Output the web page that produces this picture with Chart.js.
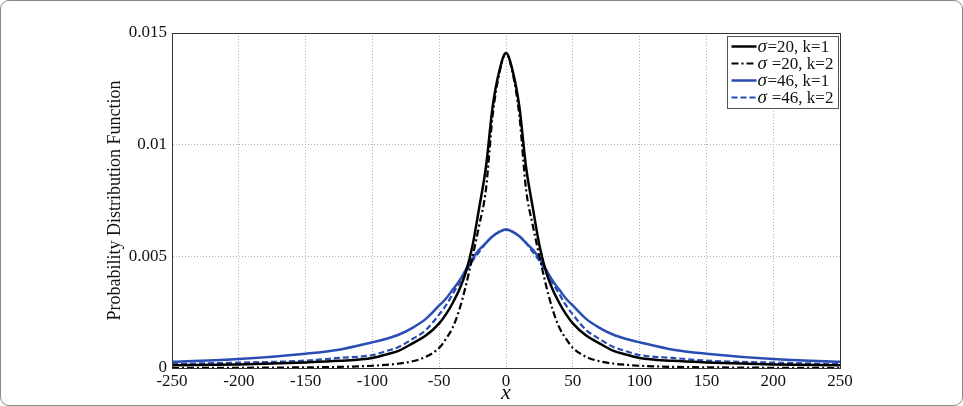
<!DOCTYPE html>
<html>
<head>
<meta charset="utf-8">
<script src="https://cdn.jsdelivr.net/npm/chart.js@4.4.1/dist/chart.umd.min.js"></script>
<style>
  html, body { margin: 0; padding: 0; background: #fff; }
  #wrap { position: relative; width: 963px; height: 406px; }
  #frame { position: absolute; left: 0; top: 0; width: 961px; height: 404px; border: 1px solid #8a8a8a; border-radius: 9px; pointer-events: none; }
</style>
</head>
<body>
<div id="wrap">
  <canvas id="pdf" width="963" height="406"></canvas>
  <div id="frame"></div>
</div>
<script>
var xs = [-250,-200,-150,-125,-100,-90,-80,-70,-60,-50,-45,-40,-35,-30,-25,-20,-15,-10,-5,0,
          5,10,15,20,25,30,35,40,45,50,60,70,80,90,100,125,150,200,250];

// sigma=20, k=1 (black solid)
var s20k1 = [0.00012,0.00016,0.00025,0.00032,0.00045,0.0006,0.00078,0.0011,0.00145,0.0020,0.0024,0.0029,0.0035,0.0043,0.0055,0.0072,0.0090,0.0117,0.0133,0.0141,
             0.0133,0.0117,0.0090,0.0072,0.0055,0.0043,0.0035,0.0029,0.0024,0.0020,0.00145,0.0011,0.00078,0.0006,0.00045,0.00032,0.00025,0.00016,0.00012];
// sigma=20, k=2 (black dash-dot)
var s20k2 = [0,0.00001,0.00003,0.00005,0.0001,0.00014,0.0002,0.0003,0.0005,0.0009,0.0013,0.0018,0.0026,0.0037,0.0050,0.0064,0.0080,0.0113,0.0132,0.0141,
             0.0132,0.0113,0.0080,0.0064,0.0050,0.0037,0.0026,0.0018,0.0013,0.0009,0.0005,0.0003,0.0002,0.00014,0.0001,0.00005,0.00003,0.00001,0];
// sigma=46, k=1 (blue solid)
var s46k1 = [0.00028,0.0004,0.00064,0.00082,0.00115,0.0013,0.0015,0.0018,0.0022,0.0028,0.0031,0.0035,0.0039,0.0044,0.0049,0.0053,0.0056,0.0059,0.0061,0.0062,
             0.0061,0.0059,0.0056,0.0053,0.0049,0.0044,0.0039,0.0035,0.0031,0.0028,0.0022,0.0018,0.0015,0.0013,0.00115,0.00082,0.00064,0.0004,0.00028];
// sigma=46, k=2 (blue dashed)
var s46k2 = [0.00018,0.00024,0.00033,0.00045,0.00058,0.00075,0.00095,0.0013,0.0017,0.0024,0.0028,0.0033,0.0038,0.0043,0.0048,0.0052,0.0056,0.0059,0.0061,0.0062,
             0.0061,0.0059,0.0056,0.0052,0.0048,0.0043,0.0038,0.0033,0.0028,0.0024,0.0017,0.0013,0.00095,0.00075,0.00058,0.00045,0.00033,0.00024,0.00018];

var labels = ["\u03c3=20, k=1", "\u03c3 =20, k=2", "\u03c3=46, k=1", "\u03c3 =46, k=2"];
var xTicks = [-250,-200,-150,-100,-50,0,50,100,150,200,250];
var yTicks = [0, 0.005, 0.01, 0.015];

var blue = "#2a4db3";
var serif = "'Liberation Serif', 'DejaVu Serif', serif";

function pts(ys) {
  return xs.map(function(x, i) { return {x: x, y: ys[i]}; });
}

// black frame round the plot area plus a legend box in the top right corner
var framePlugin = {
  id: "framePlugin",
  afterDraw: function(chart) {
    var ctx = chart.ctx, a = chart.chartArea;
    ctx.save();
    ctx.strokeStyle = "#333";
    ctx.lineWidth = 1;
    ctx.strokeRect(Math.round(a.left) + 0.5, Math.round(a.top) + 0.5, Math.round(a.right - a.left), Math.round(a.bottom - a.top));

    var bx = 727.5, by = 36.5, bw = 111, bh = 72;
    ctx.fillStyle = "#fff";
    ctx.fillRect(bx, by, bw, bh);
    ctx.strokeStyle = "#555";
    ctx.strokeRect(bx, by, bw, bh);
    chart.data.datasets.forEach(function(ds, i) {
      var y = by + 10 + i * 17;
      ctx.strokeStyle = ds.borderColor;
      ctx.lineWidth = ds.borderWidth;
      ctx.setLineDash(ds.borderDash || []);
      ctx.beginPath();
      ctx.moveTo(bx + 4, y);
      ctx.lineTo(bx + 29, y);
      ctx.stroke();
      ctx.setLineDash([]);
      ctx.fillStyle = "#111";
      ctx.textBaseline = "middle";
      ctx.font = "italic 19px " + serif;
      ctx.fillText("\u03c3", bx + 30, y);
      ctx.font = "17px " + serif;
      ctx.fillText(ds.label.slice(1), bx + 40, y + 1);
    });
    ctx.restore();
  }
};

var ctx = document.getElementById("pdf");
var myChart = new Chart(ctx, {
  type: "line",
  data: {
    datasets: [{
      label: labels[0],
      data: pts(s20k1),
      borderColor: "#000",
      borderWidth: 2.5
    }, {
      label: labels[1],
      data: pts(s20k2),
      borderColor: "#000",
      borderWidth: 2.2,
      borderDash: [7, 3, 2, 3]
    }, {
      label: labels[2],
      data: pts(s46k1),
      borderColor: blue,
      borderWidth: 2.5
    }, {
      label: labels[3],
      data: pts(s46k2),
      borderColor: blue,
      borderWidth: 2.2,
      borderDash: [6, 3]
    }]
  },
  options: {
    responsive: false,
    animation: false,
    elements: {
      point: { radius: 0 },
      line: { cubicInterpolationMode: "monotone", fill: false }
    },
    layout: { padding: { left: 104, top: 33, right: 123, bottom: 0 } },
    plugins: {
      legend: { display: false },
      tooltip: { enabled: false }
    },
    scales: {
      x: {
        type: "linear",
        min: -250,
        max: 250,
        afterBuildTicks: function(s) { s.ticks = xTicks.map(function(v) { return {value: v}; }); },
        afterFit: function(s) { s.height = 38; },
        ticks: {
          color: "#111",
          padding: 3,
          maxRotation: 0,
          font: { family: serif, size: 17 }
        },
        grid: {
          color: "#b0b0b0",
          lineWidth: 1,
          drawTicks: false
        },
        border: { color: "#333", dash: [1, 2] },
        title: {
          display: true,
          text: "x",
          color: "#111",
          padding: { top: -4, bottom: 0 },
          font: { family: serif, size: 22, style: "italic" }
        }
      },
      y: {
        min: 0,
        max: 0.015,
        afterBuildTicks: function(s) { s.ticks = yTicks.map(function(v) { return {value: v}; }); },
        afterFit: function(s) { s.width = 68; },
        ticks: {
          color: "#111",
          padding: 5,
          font: { family: serif, size: 17 },
          callback: function(v) { return String(v); }
        },
        grid: {
          color: "#b0b0b0",
          lineWidth: 1,
          drawTicks: false
        },
        border: { color: "#333", dash: [1, 2] },
        title: {
          display: true,
          text: "Probability Distribution Function",
          color: "#111",
          padding: { top: 0, bottom: 0 },
          font: { family: serif, size: 18 }
        }
      }
    }
  },
  plugins: [framePlugin]
});
</script>
</body>
</html>
